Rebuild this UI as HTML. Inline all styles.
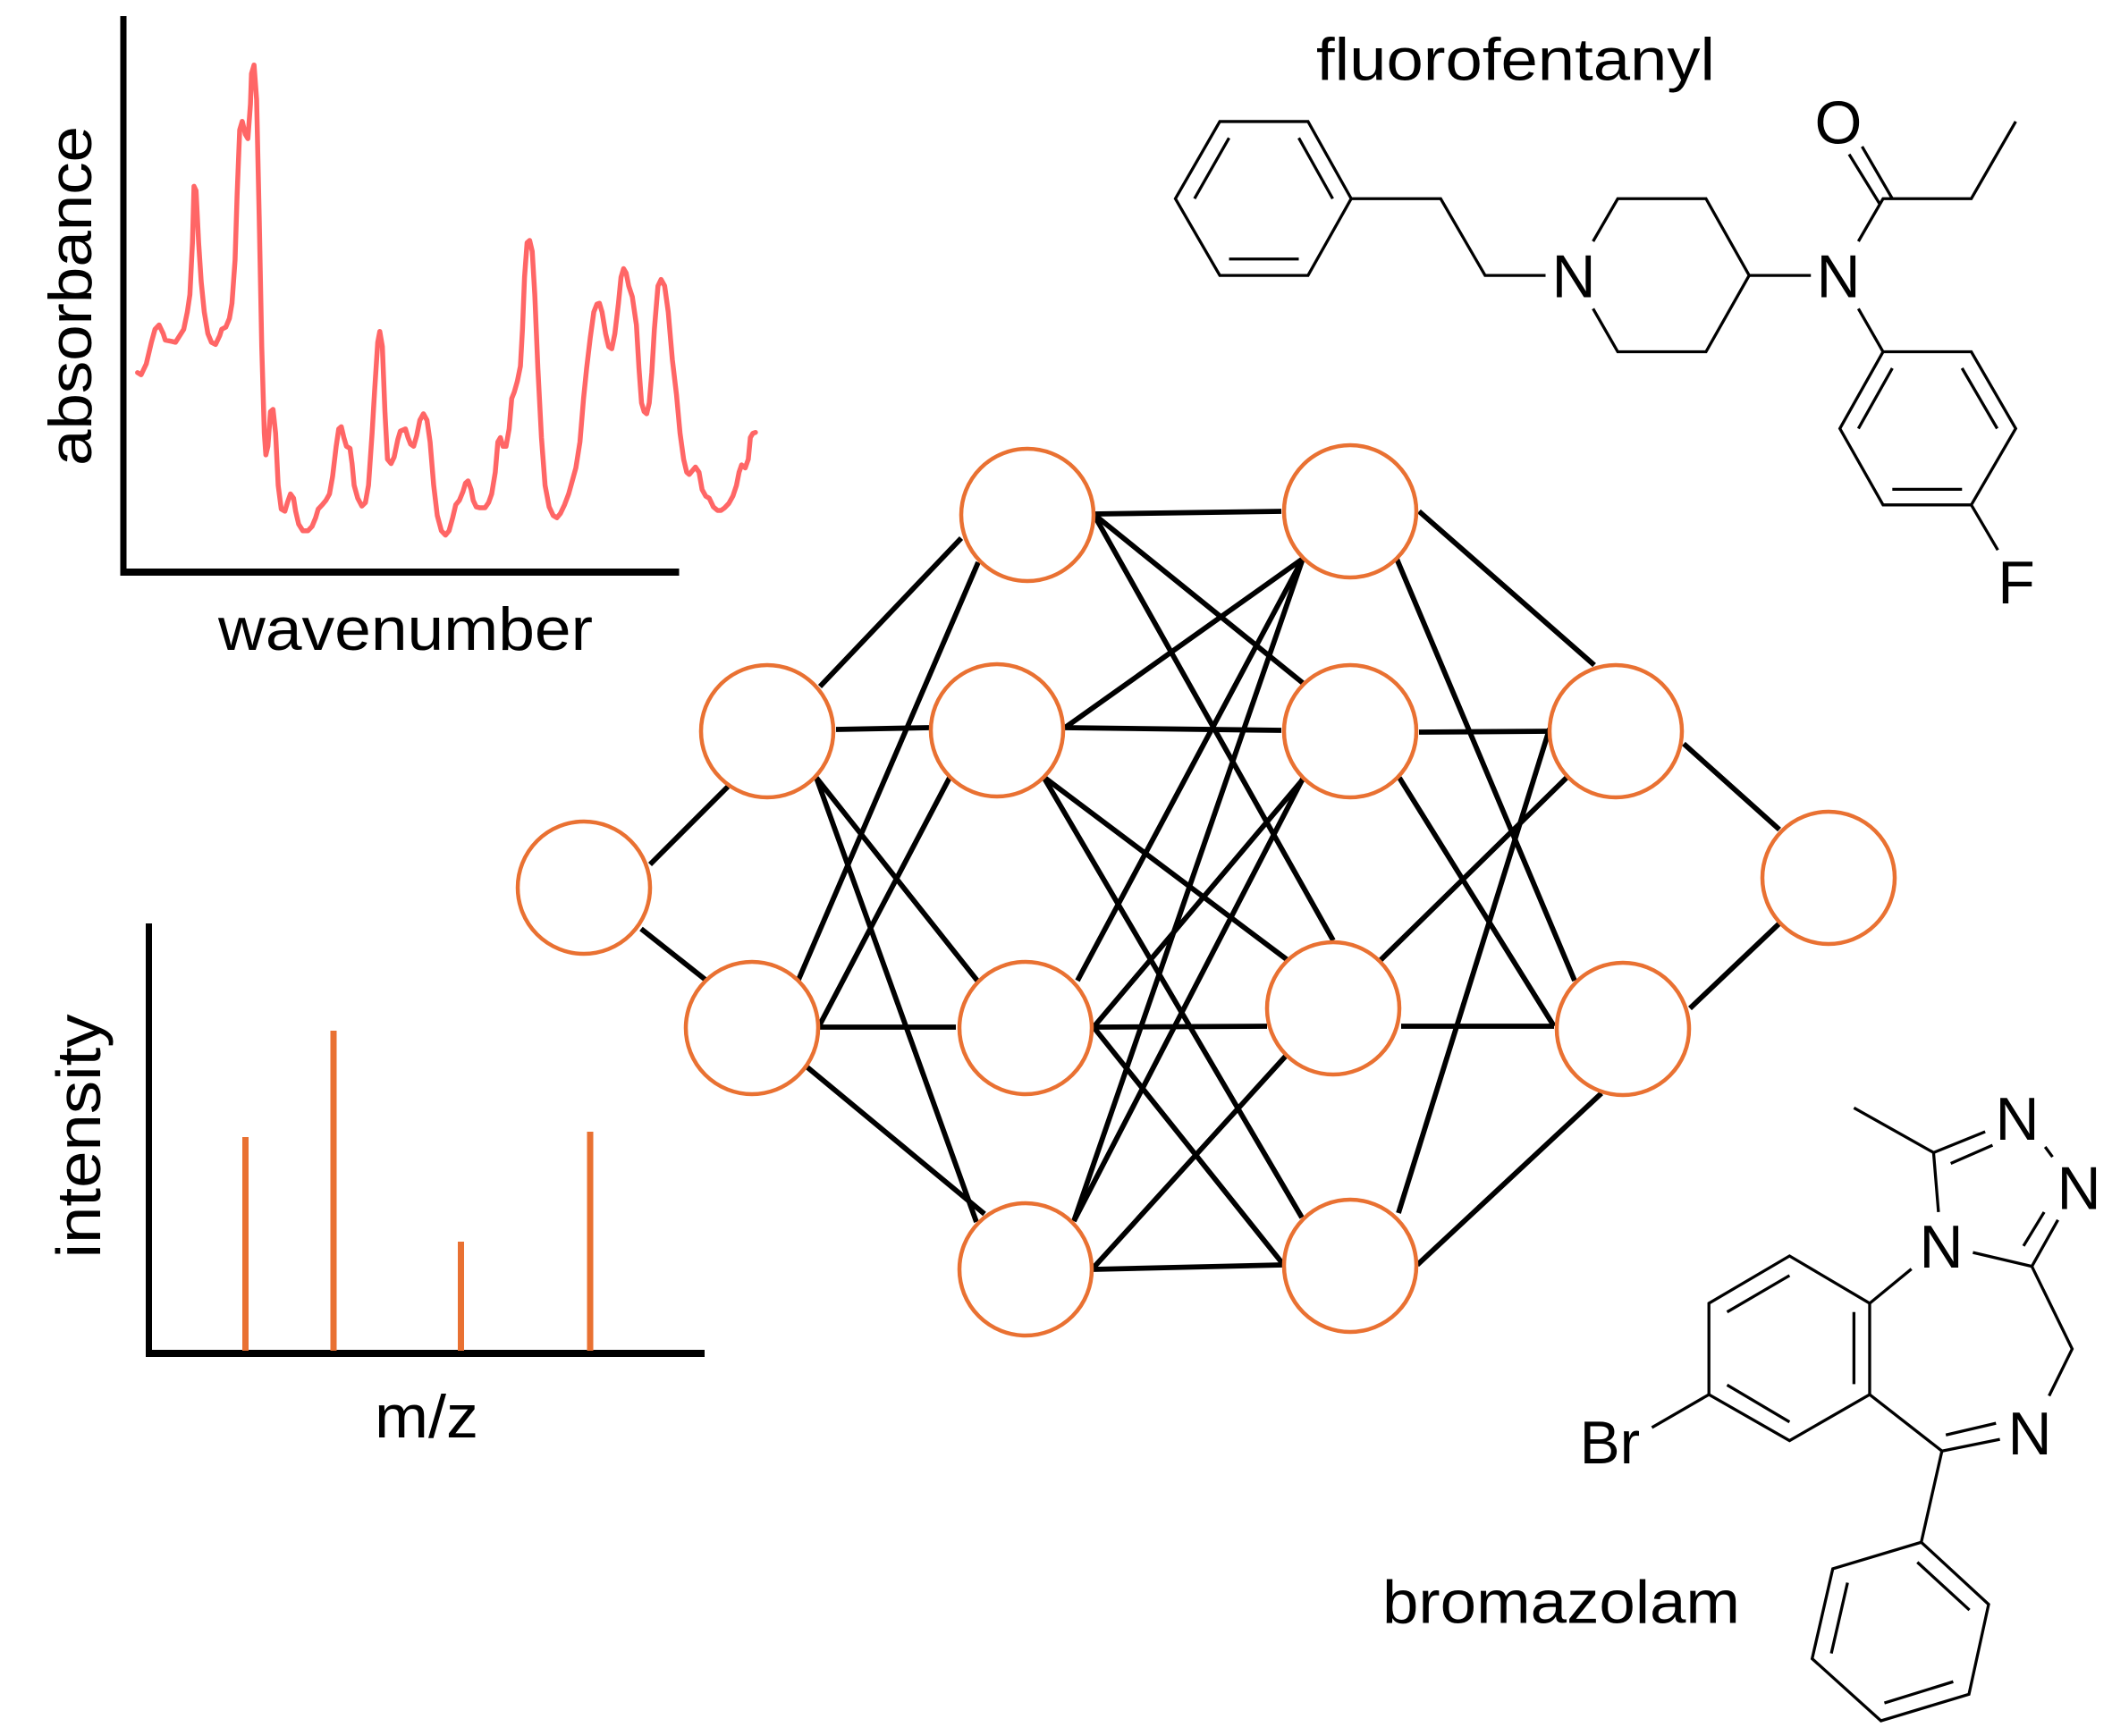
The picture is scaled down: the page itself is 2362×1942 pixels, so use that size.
<!DOCTYPE html>
<html>
<head>
<meta charset="utf-8">
<style>
  html, body { margin: 0; padding: 0; background: #ffffff; }
  body { width: 2362px; height: 1942px; overflow: hidden; }
  svg { display: block; }
  text { font-family: "Liberation Sans", sans-serif; fill: #000; }
</style>
</head>
<body>
<svg width="2362" height="1942" viewBox="0 0 2362 1942" xmlns="http://www.w3.org/2000/svg">
  <rect x="0" y="0" width="2362" height="1942" fill="#ffffff"/>

  <!-- ===== IR spectrum ===== -->
  <rect x="134.5" y="18" width="7" height="626" fill="#000"/>
  <rect x="134.5" y="636" width="625" height="8" fill="#000"/>
  <g transform="scale(0.57399,0.48468)">
    <polyline fill="none" stroke="#FF6666" stroke-width="5.5" vector-effect="non-scaling-stroke" stroke-linejoin="round" stroke-linecap="round"
      points="268,860 275,865 285,840 295,790 302,760 310,750 318,770 322,785 335,788 342,790 350,775 358,760 365,720 370,680 375,560 378,430 382,440 387,560 392,650 398,720 405,770 412,790 420,795 428,775 432,760 440,755 447,735 452,700 458,600 462,450 467,300 472,280 478,310 483,320 488,240 490,170 495,150 500,230 505,500 510,800 515,1000 518,1050 522,1030 527,950 532,945 537,1000 542,1120 548,1175 555,1180 560,1160 566,1140 572,1150 576,1180 582,1210 590,1225 600,1225 608,1215 615,1195 620,1175 628,1165 635,1155 642,1140 648,1100 655,1030 660,990 665,985 670,1010 675,1030 682,1035 686,1070 690,1120 697,1150 705,1168 712,1160 718,1120 725,1000 730,900 736,790 740,765 745,800 750,950 755,1060 762,1070 768,1055 775,1015 780,995 790,990 795,1010 800,1025 806,1030 812,1005 818,970 825,955 832,970 838,1020 845,1120 852,1190 860,1225 868,1235 875,1225 882,1195 888,1165 895,1155 902,1135 907,1115 912,1110 918,1130 922,1155 928,1170 935,1172 945,1172 952,1160 958,1140 965,1090 970,1020 975,1010 980,1030 986,1030 992,990 997,920 1002,905 1008,880 1014,845 1018,760 1022,640 1027,560 1032,555 1037,580 1042,680 1048,850 1055,1010 1062,1120 1070,1170 1078,1190 1085,1195 1092,1185 1100,1165 1108,1140 1115,1110 1122,1080 1130,1020 1137,920 1143,850 1150,780 1157,720 1163,702 1168,700 1173,720 1180,770 1186,800 1192,805 1198,770 1205,700 1210,640 1215,620 1220,630 1225,660 1232,685 1240,750 1245,850 1250,930 1255,950 1260,955 1265,930 1270,860 1275,760 1282,660 1288,645 1295,660 1302,720 1310,830 1318,910 1325,1000 1332,1060 1338,1090 1343,1095 1350,1085 1355,1078 1362,1090 1368,1130 1375,1145 1382,1150 1390,1170 1398,1178 1405,1178 1412,1172 1420,1162 1428,1145 1435,1120 1440,1090 1445,1073 1452,1080 1458,1060 1462,1010 1467,1000 1472,998"/>
  </g>
  <text transform="translate(102,331) rotate(-90)" text-anchor="middle" font-size="68" textLength="380" lengthAdjust="spacingAndGlyphs">absorbance</text>
  <text x="244" y="727" font-size="68" textLength="419" lengthAdjust="spacingAndGlyphs">wavenumber</text>

  <!-- ===== Mass spectrum ===== -->
  <rect x="163" y="1033" width="7" height="485" fill="#000"/>
  <rect x="163" y="1510" width="625" height="8" fill="#000"/>
  <rect x="271" y="1272" width="7" height="239" fill="#E97132"/>
  <rect x="369.5" y="1153" width="7" height="358" fill="#E97132"/>
  <rect x="512" y="1389" width="7" height="122" fill="#E97132"/>
  <rect x="656.5" y="1266" width="7" height="245" fill="#E97132"/>
  <text transform="translate(112,1271) rotate(-90)" text-anchor="middle" font-size="70" textLength="273" lengthAdjust="spacingAndGlyphs">intensity</text>
  <text x="419" y="1608" font-size="68" textLength="116" lengthAdjust="spacingAndGlyphs">m/z</text>

  <!-- ===== Neural network edges ===== -->
  <g stroke="#000" stroke-width="5.8" stroke-linecap="butt" fill="none">
    <!-- L0 -> L1 -->
    <line x1="727" y1="967" x2="814" y2="880"/>
    <line x1="717" y1="1039" x2="789" y2="1096"/>
    <!-- L1top -> L2 -->
    <line x1="917" y1="768" x2="1075" y2="602"/>
    <line x1="935" y1="816" x2="1039" y2="814"/>
    <line x1="913" y1="870" x2="1093" y2="1097"/>
    <line x1="913" y1="870" x2="1092" y2="1367"/>
    <!-- L1bot -> L2 -->
    <line x1="893" y1="1096" x2="1094" y2="629"/>
    <line x1="917" y1="1146" x2="1063" y2="868"/>
    <line x1="917" y1="1149" x2="1069" y2="1149"/>
    <line x1="903" y1="1194" x2="1101" y2="1358"/>
    <!-- L2top -> L3 -->
    <line x1="1223" y1="575" x2="1433" y2="572"/>
    <line x1="1223" y1="575" x2="1457" y2="764"/>
    <line x1="1223" y1="575" x2="1491" y2="1052"/>
    <!-- L2second -> L3 -->
    <line x1="1191" y1="814" x2="1457" y2="625"/>
    <line x1="1191" y1="814" x2="1433" y2="817"/>
    <line x1="1167" y1="869" x2="1440" y2="1074"/>
    <line x1="1167" y1="869" x2="1456" y2="1362"/>
    <!-- L2third -> L3 -->
    <line x1="1205" y1="1097" x2="1457" y2="625"/>
    <line x1="1223" y1="1149" x2="1457" y2="872"/>
    <line x1="1223" y1="1149" x2="1417" y2="1148"/>
    <line x1="1223" y1="1149" x2="1434" y2="1413"/>
    <!-- L2bottom -> L3 -->
    <line x1="1201" y1="1366" x2="1457" y2="625"/>
    <line x1="1201" y1="1366" x2="1457" y2="871"/>
    <line x1="1223" y1="1418" x2="1440" y2="1179"/>
    <line x1="1223" y1="1420" x2="1434" y2="1415"/>
    <!-- L3 -> L4 -->
    <line x1="1587" y1="572" x2="1783" y2="744"/>
    <line x1="1562" y1="625" x2="1761" y2="1097"/>
    <line x1="1587" y1="819" x2="1733" y2="818"/>
    <line x1="1565" y1="870" x2="1738" y2="1148"/>
    <line x1="1544" y1="1074" x2="1753" y2="869"/>
    <line x1="1567" y1="1148" x2="1738" y2="1148"/>
    <line x1="1564" y1="1357" x2="1733" y2="815"/>
    <line x1="1585" y1="1415" x2="1791" y2="1223"/>
    <!-- L4 -> out -->
    <line x1="1883" y1="832" x2="1990" y2="928"/>
    <line x1="1890" y1="1128" x2="1990" y2="1033"/>
  </g>

  <!-- ===== Neural network nodes ===== -->
  <g fill="#ffffff" stroke="#E97132" stroke-width="4.5">
    <circle cx="653" cy="993" r="74"/>
    <circle cx="858" cy="818" r="74"/>
    <circle cx="841" cy="1150" r="74"/>
    <circle cx="1149" cy="576" r="74"/>
    <circle cx="1115" cy="817" r="74"/>
    <circle cx="1147" cy="1150" r="74"/>
    <circle cx="1147" cy="1420" r="74"/>
    <circle cx="1510" cy="572" r="74"/>
    <circle cx="1510" cy="818" r="74"/>
    <circle cx="1491" cy="1128" r="74"/>
    <circle cx="1510" cy="1416" r="74"/>
    <circle cx="1807" cy="818" r="74"/>
    <circle cx="1815" cy="1151" r="74"/>
    <circle cx="2045" cy="982" r="74"/>
  </g>

  <!-- ===== Fluorofentanyl ===== -->
  <text x="1472" y="89.5" font-size="67" textLength="446" lengthAdjust="spacingAndGlyphs">fluorofentanyl</text>
  <g transform="translate(1280,0) scale(0.69003,0.45918)" fill="none" stroke="#000" stroke-width="3.3" stroke-linejoin="miter" stroke-linecap="butt">
    <path vector-effect="non-scaling-stroke" d="M122,296 L265,296 L335,484 L265,671 L122,671 L50,484 Z"/>
    <path vector-effect="non-scaling-stroke" d="M137,336 L81,484 M250,336 L305,484 M137,631 L250,631"/>
    <path vector-effect="non-scaling-stroke" d="M335,484 L480,484 L552,671 L650,671"/>
    <path vector-effect="non-scaling-stroke" d="M727,588 L767,484 L910,484 L980,671 L910,857 L767,857 L727,752"/>
    <path vector-effect="non-scaling-stroke" d="M980,671 L1080,671"/>
    <path vector-effect="non-scaling-stroke" d="M1157,588 L1197,484 L1340,484 L1412,296"/>
    <path vector-effect="non-scaling-stroke" d="M1192,498 L1142,376 M1212,484 L1163,357"/>
    <path vector-effect="non-scaling-stroke" d="M1157,752 L1197,857"/>
    <path vector-effect="non-scaling-stroke" d="M1197,857 L1340,857 L1412,1044 L1340,1230 L1197,1230 L1127,1044 Z"/>
    <path vector-effect="non-scaling-stroke" d="M1212,897 L1157,1044 M1325,897 L1382,1044 M1212,1192 L1325,1192"/>
    <path vector-effect="non-scaling-stroke" d="M1340,1230 L1383,1340"/>
  </g>
  <g font-size="68" text-anchor="middle">
    <text x="1760" y="332.5">N</text>
    <text x="2056" y="332.5">N</text>
    <text x="2056" y="160.5">O</text>
    <text x="2255" y="675">F</text>
  </g>

  <!-- ===== Bromazolam ===== -->
  <g transform="translate(1500,1180) scale(0.54974,0.48597)" fill="none" stroke="#000" stroke-width="3.3" stroke-linejoin="miter" stroke-linecap="butt">
    <path vector-effect="non-scaling-stroke" d="M1043,122 L1205,225"/>
    <path vector-effect="non-scaling-stroke" d="M1205,225 L1310,177 M1240,250 L1325,208"/>
    <path vector-effect="non-scaling-stroke" d="M1432,212 L1447,235"/>
    <path vector-effect="non-scaling-stroke" d="M1205,225 L1215,362"/>
    <path vector-effect="non-scaling-stroke" d="M1458,380 L1405,487 M1430,362 L1388,440"/>
    <path vector-effect="non-scaling-stroke" d="M1285,455 L1405,487"/>
    <path vector-effect="non-scaling-stroke" d="M1160,493 L1075,572"/>
    <path vector-effect="non-scaling-stroke" d="M1075,572 L912,463 L748,572 L748,782 L912,888 L1075,782 Z"/>
    <path vector-effect="non-scaling-stroke" d="M912,508 L785,592 M1043,592 L1043,758 M785,760 L912,845"/>
    <path vector-effect="non-scaling-stroke" d="M748,782 L632,858"/>
    <path vector-effect="non-scaling-stroke" d="M1405,487 L1487,677 L1440,785"/>
    <path vector-effect="non-scaling-stroke" d="M1075,782 L1222,912"/>
    <path vector-effect="non-scaling-stroke" d="M1222,912 L1340,885 M1230,875 L1332,848"/>
    <path vector-effect="non-scaling-stroke" d="M1222,912 L1180,1122"/>
    <path vector-effect="non-scaling-stroke" d="M1180,1122 L1317,1265 L1277,1472 L1098,1533 L958,1390 L1000,1183 Z"/>
    <path vector-effect="non-scaling-stroke" d="M1172,1168 L1278,1278 M1105,1492 L1245,1443 M1030,1215 L997,1378"/>
  </g>
  <g font-size="68" text-anchor="middle">
    <text x="2256" y="1274.8">N</text>
    <text x="2325" y="1352.5">N</text>
    <text x="2171" y="1418">N</text>
    <text x="2270" y="1627">N</text>
  </g>
  <text x="1766.6" y="1636.8" font-size="68" textLength="67.6" lengthAdjust="spacingAndGlyphs">Br</text>
  <text x="1546" y="1815.6" font-size="68" textLength="400" lengthAdjust="spacingAndGlyphs">bromazolam</text>
</svg>
</body>
</html>
